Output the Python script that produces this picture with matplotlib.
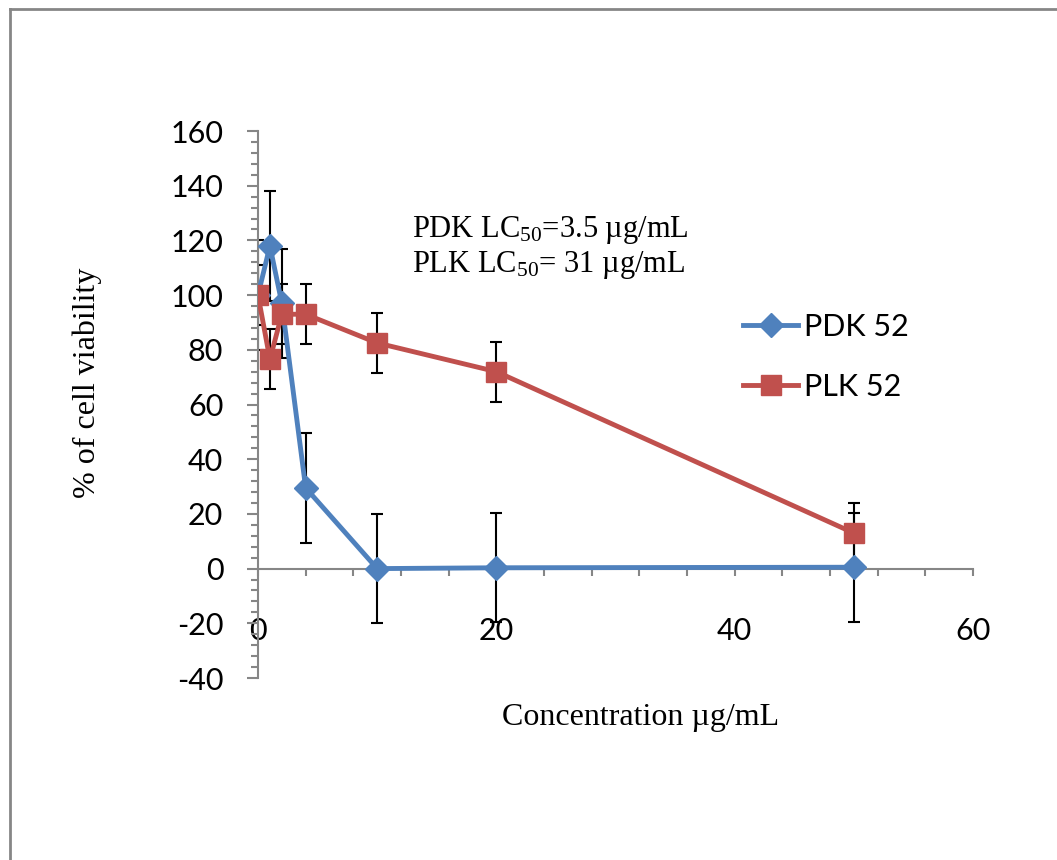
import matplotlib
matplotlib.use("Agg")
import matplotlib.pyplot as plt
from matplotlib.lines import Line2D
from matplotlib.ticker import MultipleLocator

# concentration (ug/mL)
conc = [0, 1, 2, 4, 10, 20, 50]

# % of cell viability
pdk_values = [100, 118, 97, 29.5, 0, 0.3, 0.5]
pdk_err = [20, 20, 20, 20, 20, 20, 20]
plk_values = [100, 76.5, 93, 93, 82.5, 72, 13]
plk_err = [11, 11, 11, 11, 11, 11, 11]

series_names = ["PDK 52", "PLK 52"]
notes = ["PDK LC$_{50}$=3.5 \u00b5g/mL", "PLK LC$_{50}$= 31 \u00b5g/mL"]

BLUE = "#4F81BD"
RED = "#C0504D"
GRAY = "#868686"

plt.rcParams["mathtext.fontset"] = "custom"
plt.rcParams["mathtext.rm"] = "Liberation Serif"
plt.rcParams["mathtext.default"] = "regular"
plt.rcParams["axes.unicode_minus"] = False

fig = plt.figure(figsize=(10.57, 8.6), dpi=100)
ax = fig.add_axes([258 / 1057, 1 - 678 / 860, 715 / 1057, 547 / 860])

# error bars underneath the lines
ax.errorbar(conc, pdk_values, yerr=pdk_err, fmt="none", ecolor="black",
            elinewidth=1.5, capsize=4, capthick=1.5, zorder=2)
ax.errorbar(conc, plk_values, yerr=plk_err, fmt="none", ecolor="black",
            elinewidth=1.5, capsize=4, capthick=1.5, zorder=2)

ax.plot(conc, pdk_values, color=BLUE, lw=3.5, marker="D", ms=12,
        label=series_names[0], zorder=3)
ax.plot(conc, plk_values, color=RED, lw=3.5, marker="s", ms=14,
        label=series_names[1], zorder=4)

ax.set_xlim(0, 60)
ax.set_ylim(-40, 160)
ax.xaxis.set_major_locator(MultipleLocator(20))
ax.xaxis.set_minor_locator(MultipleLocator(4))
ax.yaxis.set_major_locator(MultipleLocator(20))
ax.yaxis.set_minor_locator(MultipleLocator(4))

for side in ["top", "right"]:
    ax.spines[side].set_visible(False)
ax.spines["bottom"].set_position(("data", 0))
for side in ["left", "bottom"]:
    ax.spines[side].set_color(GRAY)
    ax.spines[side].set_linewidth(1.5)

ax.tick_params(axis="y", which="major", direction="out", length=8, width=1.5,
               color=GRAY, labelsize=22, pad=17)
ax.tick_params(axis="y", which="minor", direction="out", length=5, width=1.5,
               color=GRAY)
ax.tick_params(axis="x", which="both", direction="out", length=5, width=1.5,
               color=GRAY, labelsize=22, pad=30)
for lab in ax.get_xticklabels() + ax.get_yticklabels():
    lab.set_fontfamily("Lato")

fig.text(641 / 1057, 1 - 717 / 860, "Concentration \u00b5g/mL",
         family="Liberation Serif", fontsize=23, ha="center", va="center")
fig.text(87 / 1057, 1 - 383 / 860, "% of cell viability",
         family="Liberation Serif", fontsize=23, rotation=90,
         ha="center", va="center")

fig.text(412 / 1057, 1 - 237 / 860, notes[0], family="Liberation Serif",
         fontsize=22, va="baseline")
fig.text(412 / 1057, 1 - 272 / 860, notes[1], family="Liberation Serif",
         fontsize=22, va="baseline")

ax.legend(loc="center left", bbox_to_anchor=((743 - 258) / 715, (678 - 357) / 547),
          frameon=False, prop={"family": "Lato", "size": 22},
          handlelength=1.8, handletextpad=0.2, labelspacing=1.05,
          borderpad=0, borderaxespad=0)

# border around the chart area
fig.add_artist(Line2D([9.5 / 1057, 9.5 / 1057], [0, 1 - 8.5 / 860],
                      transform=fig.transFigure, color=GRAY, lw=2))
fig.add_artist(Line2D([9.5 / 1057, 1], [1 - 8.5 / 860, 1 - 8.5 / 860],
                      transform=fig.transFigure, color=GRAY, lw=2))

fig.savefig("out.png", dpi=100)
